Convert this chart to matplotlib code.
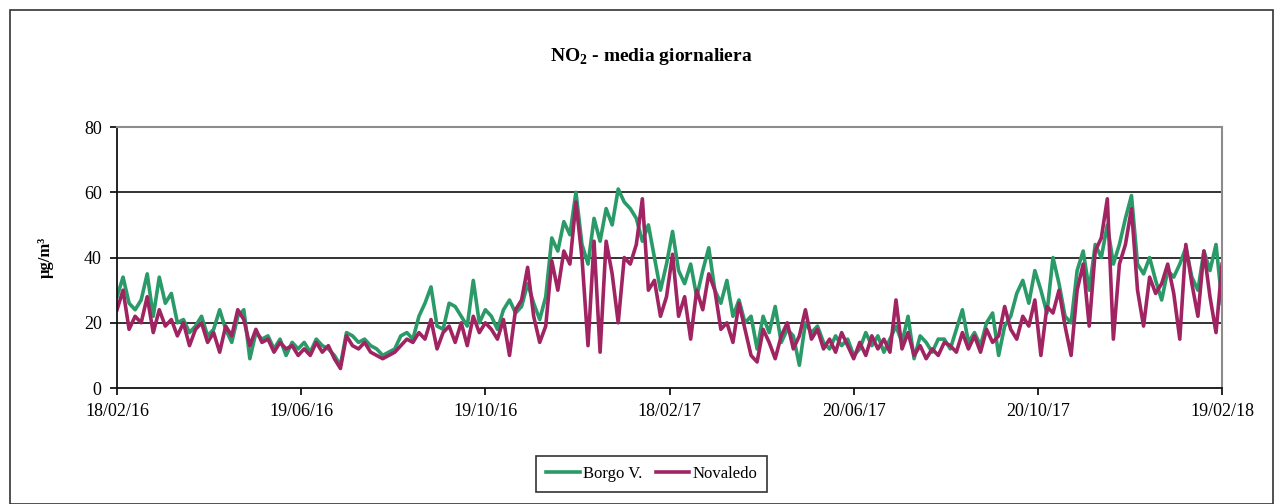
import numpy as np
import matplotlib
matplotlib.use('Agg')
import matplotlib.pyplot as plt
import matplotlib.dates as mdates
from matplotlib.patches import Rectangle

plt.rcParams['font.family'] = 'Liberation Serif'
plt.rcParams['mathtext.fontset'] = 'custom'
plt.rcParams['mathtext.rm'] = 'Liberation Serif'
plt.rcParams['mathtext.bf'] = 'Liberation Serif:bold'

# =============================================================================
# DATA (one every 4 days)
# =============================================================================
start = np.datetime64('2016-02-18')
step_days = 4

borgo = [28, 34, 26, 24, 27, 35, 22, 34, 26, 29, 20, 21, 17, 19, 22, 16, 18, 24, 18, 14, 22, 24, 9, 17, 15, 16, 12, 15, 10, 14, 12,
         14, 11, 15, 13, 12, 10, 7, 17, 16, 14, 15, 13, 12, 10, 11, 12, 16, 17, 15, 22, 26, 31, 19, 18, 26, 25, 22, 19, 33, 20, 24,
         22, 18, 24, 27, 23, 25, 32, 26, 21, 28, 46, 42, 51, 47, 60, 44, 38, 52, 45, 55, 50, 61, 57, 55, 52, 45, 50, 40, 30, 38, 48,
         36, 32, 38, 28, 36, 43, 30, 26, 33, 22, 27, 20, 22, 12, 22, 17, 25, 14, 18, 16, 7, 20, 17, 19, 14, 12, 16, 13, 15, 10,
         12, 17, 13, 16, 11, 15, 19, 14, 22, 9, 16, 14, 11, 15, 15, 12, 18, 24, 14, 17, 13, 20, 23, 10, 19, 22, 29, 33, 26, 36,
         30, 23, 40, 32, 22, 20, 36, 42, 30, 44, 40, 50, 38, 44, 52, 59, 38, 35, 40, 33, 27, 36, 34, 38, 43, 34, 30, 42, 36, 44, 26]

novaledo = [24, 30, 18, 22, 20, 28, 17, 24, 19, 21, 16, 20, 13, 18, 20, 14, 17, 11, 19, 16, 24, 21, 13, 18, 14, 15, 11, 14, 12, 13, 10,
            12, 10, 14, 11, 13, 9, 6, 16, 13, 12, 14, 11, 10, 9, 10, 11, 13, 15, 14, 17, 15, 21, 12, 17, 19, 14, 20, 13, 22, 17, 20,
            18, 15, 21, 10, 24, 27, 37, 22, 14, 19, 39, 30, 42, 38, 57, 40, 13, 45, 11, 45, 35, 20, 40, 38, 44, 58, 30, 33, 22, 28, 41,
            22, 28, 15, 30, 24, 35, 30, 18, 20, 14, 26, 18, 10, 8, 18, 14, 9, 16, 20, 12, 16, 24, 15, 18, 12, 15, 11, 17, 13, 9,
            14, 10, 16, 12, 15, 11, 27, 12, 17, 10, 13, 9, 12, 10, 14, 13, 11, 17, 12, 16, 11, 18, 14, 16, 25, 18, 15, 22, 19, 27,
            10, 25, 23, 30, 19, 10, 30, 38, 19, 42, 46, 58, 15, 38, 44, 55, 30, 19, 34, 29, 32, 38, 29, 15, 44, 32, 22, 42, 28, 17, 38]

tick_dates = ['2016-02-18', '2016-06-19', '2016-10-19', '2017-02-18',
              '2017-06-20', '2017-10-20', '2018-02-19']
y_ticks = [0, 20, 40, 60, 80]

dates = start + np.arange(len(borgo)) * np.timedelta64(step_days, 'D')
dates = dates.astype('datetime64[D]').astype(object)

# =============================================================================
# PLOT
# =============================================================================
fig = plt.figure(figsize=(12.83, 5.04), dpi=100)
ax = fig.add_axes([0.0912, 0.230, 0.8613, 0.518])

green = '#2a9a68'
purple = '#a02462'
ax.plot(dates, borgo, color=green, lw=2.6, label='Borgo V.')
ax.plot(dates, novaledo, color=purple, lw=2.6, label='Novaledo')

tdates = [np.datetime64(d).astype(object) for d in tick_dates]
ax.set_xlim(tdates[0], tdates[-1])
ax.set_xticks(tdates)
ax.xaxis.set_major_formatter(mdates.DateFormatter('%d/%m/%y'))
ax.set_ylim(0, 80)
ax.set_yticks(y_ticks)

for yv in [20, 40, 60]:
    ax.axhline(yv, color='#222222', lw=1.3, zorder=0)

for s in ['top', 'right']:
    ax.spines[s].set_color('#8c8c8c')
    ax.spines[s].set_linewidth(1.5)
for s in ['left', 'bottom']:
    ax.spines[s].set_color('#111111')
    ax.spines[s].set_linewidth(1.3)

ax.tick_params(axis='both', direction='out', length=5, width=1.2, labelsize=13, pad=6)
ax.set_ylabel('µg/m³', fontsize=12, fontweight='bold', labelpad=22)

fig.text(0.508, 0.888, r'NO$_{\mathbf{2}}$ - media giornaliera', ha='center', va='center',
         fontsize=14, fontweight='bold')

leg = fig.legend(loc='center', bbox_to_anchor=(0.508, 0.060), ncol=2, fontsize=12,
                 frameon=True, fancybox=False, edgecolor='black', handlelength=2.0,
                 handletextpad=0.2, columnspacing=0.8, borderpad=0.6)
leg.get_frame().set_linewidth(1.2)

# outer frame round the whole chart
fig.patches.append(Rectangle((0.008, 0.0), 0.984, 0.98, transform=fig.transFigure,
                             fill=False, edgecolor='#333333', lw=1.2))

fig.savefig('out.png', dpi=100)
